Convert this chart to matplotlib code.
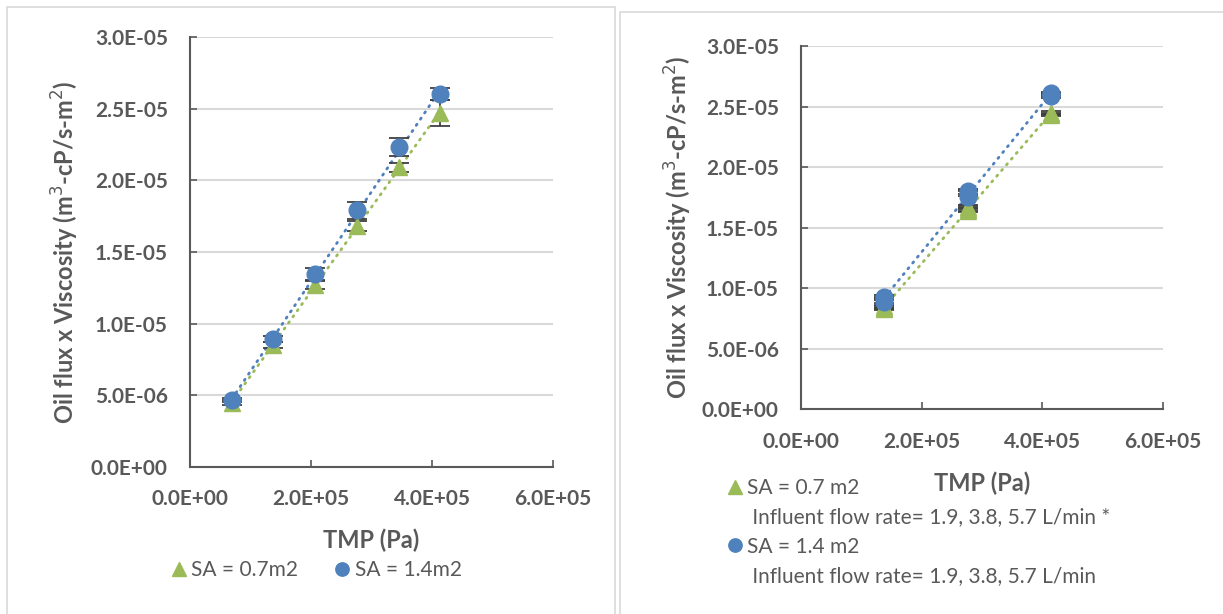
import numpy as np
import matplotlib
matplotlib.use("Agg")
import matplotlib.pyplot as plt
from matplotlib.lines import Line2D
from matplotlib.patches import Rectangle
from matplotlib.ticker import FuncFormatter, MultipleLocator

plt.rcParams['font.family'] = ['Lato', 'DejaVu Sans']

# ---- data: left panel (six TMP levels)
tmp_left = [69000, 138000, 207000, 276000, 345000, 414000]
flux_07_left = [4.5e-6, 8.5e-6, 12.7e-6, 16.8e-6, 20.9e-6, 24.7e-6]
err_07_left = [0.15e-6, 0.2e-6, 0.25e-6, 0.35e-6, 0.3e-6, 0.9e-6]
flux_14_left = [4.67e-6, 8.93e-6, 13.45e-6, 17.9e-6, 22.3e-6, 26.0e-6]
err_14_left = [0.15e-6, 0.2e-6, 0.4e-6, 0.6e-6, 0.63e-6, 0.43e-6]

# ---- data: right panel (three TMP levels x three flow rates)
tmp_right = [138000, 138000, 138000, 276000, 276000, 276000, 414000, 414000, 414000]
flux_07_right = [8.3e-6, 8.4e-6, 8.5e-6, 16.4e-6, 16.5e-6, 16.7e-6, 24.3e-6, 24.4e-6, 24.5e-6]
err_07_right = [0.1e-6] * 9
flux_14_right = [8.9e-6, 9.2e-6, 9.3e-6, 17.5e-6, 17.8e-6, 18.0e-6, 25.9e-6, 26.0e-6, 26.1e-6]
err_14_right = [0.1e-6, 0.1e-6, 0.1e-6, 0.6e-6, 0.2e-6, 0.2e-6, 0.2e-6, 0.1e-6, 0.1e-6]

GREEN = '#9BBB59'
BLUE = '#4F81BD'
TEXT = '#595959'
AXIS = '#595959'
GRID = '#D9D9D9'

W, H = 1223, 614
fig = plt.figure(figsize=(W / 100, H / 100), dpi=100)

# panel borders
fig.patches.append(Rectangle((7 / W, -0.05), 608 / W, (H - 7) / H + 0.05,
                             transform=fig.transFigure, fill=False,
                             edgecolor='#D9D9D9', linewidth=1.2))
fig.patches.append(Rectangle((620 / W, -0.05), 700 / W, (H - 12) / H + 0.05,
                             transform=fig.transFigure, fill=False,
                             edgecolor='#D9D9D9', linewidth=1.2))


def sci(v, pos):
    return f"{v:.1E}"


def setup(ax):
    ax.set_xlim(0, 6e5)
    ax.set_ylim(0, 3e-5)
    ax.xaxis.set_major_locator(MultipleLocator(2e5))
    ax.yaxis.set_major_locator(MultipleLocator(5e-6))
    ax.xaxis.set_major_formatter(FuncFormatter(sci))
    ax.yaxis.set_major_formatter(FuncFormatter(sci))
    for s in ['top', 'right']:
        ax.spines[s].set_visible(False)
    for s in ['left', 'bottom']:
        ax.spines[s].set_color(AXIS)
        ax.spines[s].set_linewidth(1.5)
    ax.tick_params(direction='in', length=5, width=1.2, color=AXIS,
                   labelcolor=TEXT, labelsize=15, pad=16)
    for lab in ax.get_xticklabels() + ax.get_yticklabels():
        lab.set_fontweight('bold')
    ax.grid(axis='y', color=GRID, linewidth=1.5)
    ax.set_axisbelow(True)


def series(ax, x, y, err, color, marker, ms):
    xs = np.array(x, dtype=float)
    ys = np.array(y)
    k, b = np.polyfit(xs, ys, 1)
    xl = np.array([xs.min(), xs.max()])
    ax.plot(xl, k * xl + b, linestyle=(0, (0.5, 2.2)), color=color,
            linewidth=2.0, dash_capstyle='round', zorder=2)
    ax.errorbar(xs, ys, yerr=err, fmt='none', ecolor='#404040',
                elinewidth=1.3, capsize=7, capthick=1.3, zorder=3)
    h, = ax.plot(xs, ys, linestyle='none', marker=marker, markersize=ms,
                 color=color, zorder=4)
    return h


def labels(ax, ylab_x, xlab_y):
    ax.text(ylab_x, 0.5, 'Oil flux x Viscosity (m$^3$-cP/s-m$^2$)',
            transform=ax.transAxes, rotation=90, ha='center', va='center',
            fontsize=17, fontweight='bold', color=TEXT)
    ax.text(0.5, xlab_y, 'TMP (Pa)', transform=ax.transAxes, ha='center',
            va='center', fontsize=17, fontweight='bold', color=TEXT)


# ---- left panel
axL = fig.add_axes([190 / W, (H - 467) / H, 363 / W, 430 / H])
setup(axL)
hg = series(axL, tmp_left, flux_07_left, err_07_left, GREEN, '^', 12)
hb = series(axL, tmp_left, flux_14_left, err_14_left, BLUE, 'o', 12)
labels(axL, -0.344, -0.17)
fig.legend([hg, hb], ['SA = 0.7m2', 'SA = 1.4m2'], ncol=2,
           loc='center', bbox_to_anchor=(314 / W, (H - 570) / H),
           frameon=False, fontsize=15, labelcolor=TEXT, handletextpad=0.0,
           columnspacing=1.5, handlelength=1.2, markerscale=0.8)

# ---- right panel
axR = fig.add_axes([801 / W, (H - 409.3) / H, 362 / W, 363.3 / H])
setup(axR)
hg2 = series(axR, tmp_right, flux_07_right, err_07_right, GREEN, '^', 12)
hb2 = series(axR, tmp_right, flux_14_right, err_14_right, BLUE, 'o', 12)
labels(axR, -0.34, -0.203)
blank = Line2D([], [], linestyle='none')
fig.legend([hg2, blank, hb2, blank],
           ['SA = 0.7 m2', ' Influent flow rate= 1.9, 3.8, 5.7 L/min *',
            'SA = 1.4 m2', ' Influent flow rate= 1.9, 3.8, 5.7 L/min'],
           loc='upper left', bbox_to_anchor=(722 / W, (H - 478) / H),
           frameon=False, fontsize=15, labelcolor=TEXT, handletextpad=0.0,
           handlelength=1.2, markerscale=0.8, labelspacing=0.45,
           borderpad=0, borderaxespad=0)

fig.savefig('out.png', dpi=100)
